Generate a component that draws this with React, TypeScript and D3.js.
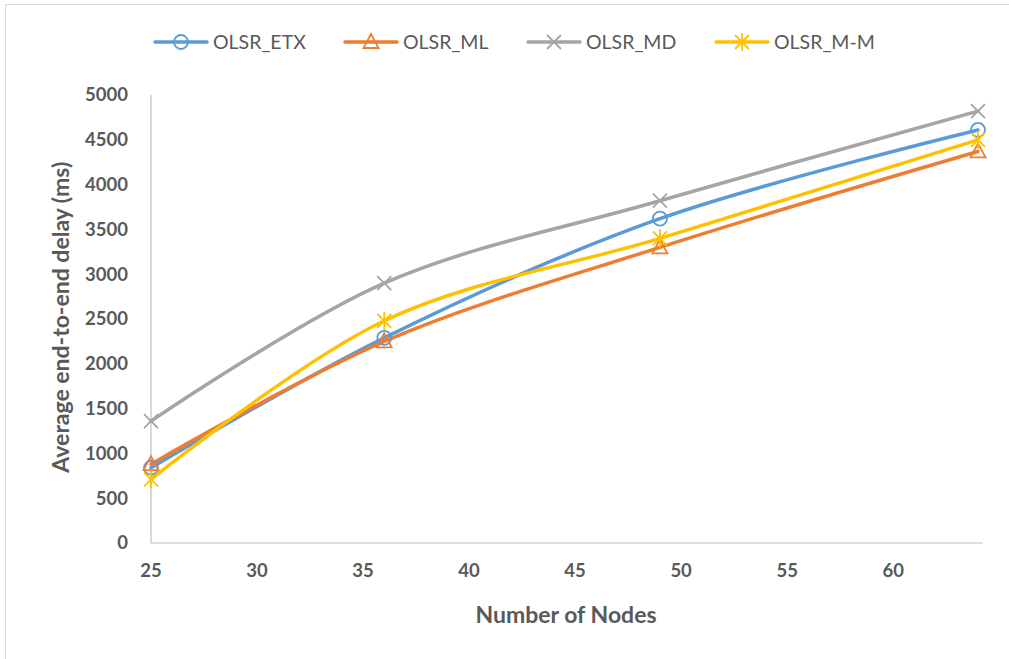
import React from "react";
import * as d3 from "d3";

const nodes = [25, 36, 49, 64];
const seriesNames = ["OLSR_ETX", "OLSR_ML", "OLSR_MD", "OLSR_M-M"];
const etx = [840, 2290, 3620, 4610];
const ml = [880, 2250, 3300, 4370];
const md = [1360, 2900, 3820, 4820];
const mm = [710, 2480, 3400, 4500];
const seriesColors = ["#5B9BD5", "#ED7D31", "#A5A5A5", "#FFC000"];
const seriesMarkers = ["circle", "triangle", "x", "star"];
const xTicks = [25, 30, 35, 40, 45, 50, 55, 60];
const yTicks = [0, 500, 1000, 1500, 2000, 2500, 3000, 3500, 4000, 4500, 5000];

const FONT = "Lato, 'Open Sans', sans-serif";
const TXT = "#595959";

function Marker({ type, x, y, color }: { type: string; x: number; y: number; color: string }) {
  const s = 7;
  if (type === "circle")
    return <circle cx={x} cy={y} r={7} fill="none" stroke={color} strokeWidth={1.8} />;
  if (type === "triangle")
    return (
      <path
        d={`M${x},${y - 8}L${x + 7.5},${y + 6}L${x - 7.5},${y + 6}Z`}
        fill="none"
        stroke={color}
        strokeWidth={1.8}
      />
    );
  if (type === "x")
    return (
      <path d={`M${x - s},${y - s}L${x + s},${y + s}M${x - s},${y + s}L${x + s},${y - s}`} stroke={color} strokeWidth={1.8} />
    );
  return (
    <path
      d={`M${x - s},${y - s}L${x + s},${y + s}M${x - s},${y + s}L${x + s},${y - s}M${x},${y - 9}L${x},${y + 9}`}
      stroke={color}
      strokeWidth={1.8}
    />
  );
}

export default function App() {
  const W = 1009;
  const H = 659;
  const x = d3.scaleLinear().domain([25, 64]).range([151, 978]);
  const y = d3.scaleLinear().domain([0, 5000]).range([543, 95]);
  const data = [etx, ml, md, mm];
  const line = d3
    .line<number>()
    .x((_, i) => x(nodes[i]))
    .y((d) => y(d))
    .curve(d3.curveCatmullRom.alpha(0.5));

  const legendX = [155, 345, 528, 716];

  return (
    <svg
      width={W}
      height={H}
      style={{ position: "absolute", left: 0, top: 0, background: "#fff" }}
      fontFamily={FONT}
    >
      <rect x={5.5} y={4.5} width={W + 10} height={H + 10} fill="#fff" stroke="#D9D9D9" strokeWidth={1} />
      {/* axes */}
      <line x1={x(25)} x2={x(25)} y1={y(5000)} y2={y(0)} stroke="#BFBFBF" strokeWidth={1.2} />
      <line x1={x(25)} x2={983} y1={y(0)} y2={y(0)} stroke="#BFBFBF" strokeWidth={1.2} />
      {yTicks.map((t) => (
        <text key={t} x={128} y={y(t)} dy="0.35em" textAnchor="end" fontSize={18.5} fontWeight={700} fill={TXT}>
          {t}
        </text>
      ))}
      {xTicks.map((t) => (
        <text key={t} x={x(t)} y={577} textAnchor="middle" fontSize={18.5} fontWeight={700} fill={TXT}>
          {t}
        </text>
      ))}
      <text x={566} y={623} textAnchor="middle" fontSize={23} fontWeight={700} fill={TXT}>
        Number of Nodes
      </text>
      <text
        transform={`translate(69,${y(2520)}) rotate(-90)`}
        textAnchor="middle"
        fontSize={23}
        fontWeight={700}
        fill={TXT}
      >
        Average end-to-end delay (ms)
      </text>
      {/* series */}
      {data.map((vals, si) => (
        <path key={si} d={line(vals) || ""} fill="none" stroke={seriesColors[si]} strokeWidth={3.5} strokeLinecap="round" />
      ))}
      {data.map((vals, si) =>
        vals.map((v, i) => (
          <Marker key={`${si}-${i}`} type={seriesMarkers[si]} x={x(nodes[i])} y={y(v)} color={seriesColors[si]} />
        ))
      )}
      {/* legend */}
      {seriesNames.map((n, i) => (
        <g key={n}>
          <line x1={legendX[i]} x2={legendX[i] + 52} y1={42} y2={42} stroke={seriesColors[i]} strokeWidth={3.5} strokeLinecap="round" />
          <Marker type={seriesMarkers[i]} x={legendX[i] + 26} y={42} color={seriesColors[i]} />
          <text x={legendX[i] + 58} y={42} dy="0.35em" fontSize={19.5} fill={TXT}>
            {n}
          </text>
        </g>
      ))}
    </svg>
  );
}
